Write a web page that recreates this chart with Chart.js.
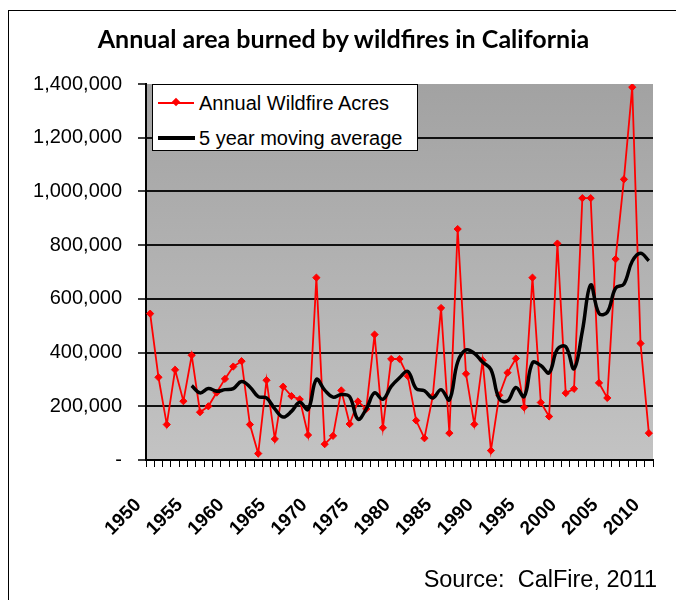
<!DOCTYPE html>
<html>
<head>
<meta charset="utf-8">
<script src="https://cdn.jsdelivr.net/npm/chart.js@4.4.1/dist/chart.umd.min.js"></script>
<style>
html,body{margin:0;padding:0;background:#fff;}
#wrap{position:relative;width:676px;height:600px;overflow:hidden;background:#fff;}
#frame{position:absolute;left:8px;top:10px;width:720px;height:640px;border:1px solid #000;box-sizing:border-box;}
#chart{position:absolute;left:0;top:0;}
#title{position:absolute;left:0;top:27px;width:687px;text-align:center;font-family:'Lato',sans-serif;font-weight:700;line-height:22px;font-size:22px;color:#000;white-space:nowrap;}
#legend{position:absolute;left:152px;top:84px;width:266px;height:67px;border:1px solid #000;box-sizing:border-box;background:#fff;}
.lt{position:absolute;left:46px;font-family:'Liberation Sans',Arial,sans-serif;font-size:20px;line-height:20px;color:#000;white-space:nowrap;}
.ls{position:absolute;left:5px;}
#source{position:absolute;right:19px;top:568px;font-family:'Liberation Sans',Arial,sans-serif;font-size:23.5px;line-height:23.5px;color:#000;white-space:pre;}
</style>
</head>
<body>
<div id="wrap">
  <div id="frame"></div>
  <canvas id="chart" width="676" height="600"></canvas>
  <div id="title"></div>
  <div id="legend">
    <div class="ls" style="top:17px;width:36px;height:2px;background:#ff0000;"></div>
    <div class="ls" style="left:20px;top:14px;width:6px;height:6px;background:#ff0000;transform:rotate(45deg);"></div>
    <div class="lt" id="leg1" style="top:8px;"></div>
    <div class="ls" style="top:51px;width:37px;height:3.5px;background:#000;"></div>
    <div class="lt" id="leg2" style="top:43px;"></div>
  </div>
  <div id="source"></div>
</div>
<script>
const titleText = 'Annual area burned by wildfires in California';
const sourceText = 'Source:  CalFire, 2011';
const seriesNames = ['Annual Wildfire Acres', '5 year moving average'];

const years = ['1950','1951','1952','1953','1954','1955','1956','1957','1958','1959',
  '1960','1961','1962','1963','1964','1965','1966','1967','1968','1969',
  '1970','1971','1972','1973','1974','1975','1976','1977','1978','1979',
  '1980','1981','1982','1983','1984','1985','1986','1987','1988','1989',
  '1990','1991','1992','1993','1994','1995','1996','1997','1998','1999',
  '2000','2001','2002','2003','2004','2005','2006','2007','2008','2009','2010'];

const acres = [545000,308000,132000,336000,219000,390000,178000,200000,251000,302000,
  348000,368000,132000,24000,297000,78000,273000,238000,226000,93000,
  679000,59000,90000,259000,134000,218000,190000,467000,120000,376000,
  376000,312000,147000,81000,237000,566000,100000,860000,321000,133000,
  371000,35000,241000,325000,378000,196000,679000,214000,162000,806000,
  249000,265000,975000,975000,287000,231000,748000,1045000,1388000,434000,100000];

const movingAvg = [null,null,null,null,null,277000,250000,266000,256000,262000,
  266000,292000,272000,236000,231000,190000,160000,181000,215000,188000,
  300000,260000,234000,244000,236000,152000,190000,250000,226000,274000,
  306000,330000,266000,258000,231000,262000,224000,365000,410000,397000,
  365000,337000,228000,220000,270000,236000,362000,352000,325000,413000,
  422000,340000,480000,652000,546000,550000,640000,655000,740000,770000,742000];

const yTickValues = [0,200000,400000,600000,800000,1000000,1200000,1400000];
const xLabelYears = ['1950','1955','1960','1965','1970','1975','1980','1985','1990','1995','2000','2005','2010'];

(function(){
  const t = document.getElementById('title');
  t.textContent = titleText;
  const c = document.createElement('canvas').getContext('2d');
  c.font = '700 100px Lato';
  const w = c.measureText(titleText).width;
  t.style.fontSize = (100 * 493 / w).toFixed(2) + 'px';
  document.getElementById('leg1').textContent = seriesNames[0];
  document.getElementById('leg2').textContent = seriesNames[1];
  document.getElementById('source').textContent = sourceText;
})();

const plotBg = {
  id: 'plotBg',
  beforeDraw(chart) {
    const {ctx, chartArea: a} = chart;
    const g = ctx.createLinearGradient(0, a.top, 0, a.bottom);
    g.addColorStop(0, '#a2a2a2');
    g.addColorStop(1, '#c3c3c3');
    ctx.save();
    ctx.fillStyle = g;
    ctx.fillRect(a.left, a.top, a.right - a.left, a.bottom - a.top);
    ctx.restore();
  }
};

new Chart(document.getElementById('chart'), {
  type: 'line',
  data: {
    labels: years,
    datasets: [
      {
        label: seriesNames[0],
        data: acres,
        borderColor: '#ff0000',
        backgroundColor: '#ff0000',
        borderWidth: 1.8,
        tension: 0,
        pointStyle: 'rectRot',
        pointRadius: 3.6,
        pointBorderWidth: 1,
        pointBackgroundColor: '#ff0000',
        pointBorderColor: '#ff0000',
        order: 2
      },
      {
        label: seriesNames[1],
        data: movingAvg,
        borderColor: '#000000',
        borderWidth: 3.5,
        tension: 0.4,
        pointRadius: 0,
        fill: false,
        spanGaps: false,
        order: 1
      }
    ]
  },
  plugins: [plotBg],
  options: {
    responsive: false,
    animation: false,
    devicePixelRatio: 1,
    layout: { padding: { left: 8, right: 23, top: 84, bottom: 0 } },
    plugins: {
      legend: { display: false },
      title: { display: false },
      tooltip: { enabled: false }
    },
    scales: {
      x: {
        type: 'category',
        offset: true,
        grid: { display: true, offset: true, drawOnChartArea: false, drawTicks: true, tickLength: 7, color: '#000', lineWidth: 1 },
        border: { display: true, color: '#000', width: 2 },
        ticks: {
          autoSkip: false,
          maxRotation: 45,
          minRotation: 45,
          color: '#000',
          padding: 27,
          labelOffset: -12,
          font: { family: "'Liberation Sans', Arial, sans-serif", size: 19, weight: 'bold' },
          callback: function(v, i) { return xLabelYears.includes(years[i]) ? years[i] : ''; }
        },
        afterFit: function(s) { s.height = 140; s.paddingLeft = 0; s.paddingRight = 0; }
      },
      y: {
        min: 0,
        max: 1400000,
        afterBuildTicks: function(s) { s.ticks = yTickValues.map(v => ({ value: v })); },
        ticks: {
          color: '#000',
          padding: 16,
          font: { family: "'Liberation Sans', Arial, sans-serif", size: 20 },
          callback: function(v) { return v === 0 ? '-' : Number(v).toLocaleString('en-US'); }
        },
        grid: {
          color: function(ctx) { return (ctx.tick && ctx.tick.value === 1400000) ? 'rgba(0,0,0,0)' : '#111'; },
          lineWidth: 2,
          tickLength: 8,
          tickColor: '#000',
          tickWidth: 1.5
        },
        border: { display: true, color: '#000', width: 2 },
        afterFit: function(s) { s.width = 138; s.paddingTop = 0; s.paddingBottom = 0; }
      }
    }
  }
});
</script>
</body>
</html>
